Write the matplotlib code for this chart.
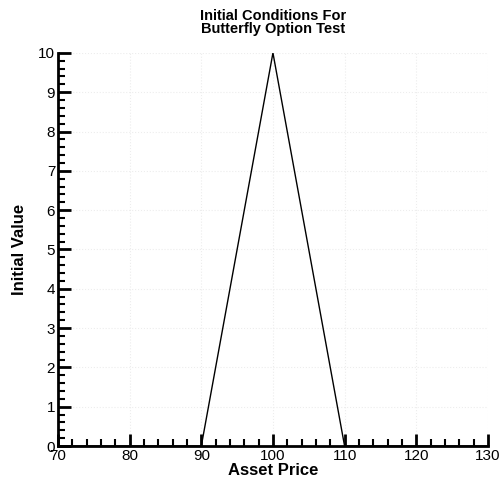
import matplotlib
matplotlib.use("Agg")
import matplotlib.pyplot as plt
from matplotlib.ticker import MultipleLocator

plt.rcParams['font.family'] = ['Liberation Sans', 'DejaVu Sans']

asset_price = [70, 90, 100, 110, 130]
initial_value = [0, 0, 10, 0, 0]
x_ticks = [70, 80, 90, 100, 110, 120, 130]
y_ticks = [0, 1, 2, 3, 4, 5, 6, 7, 8, 9, 10]

fig = plt.figure(figsize=(5.01, 4.8), dpi=100)
ax = fig.add_axes([0.1158, 0.0708, 0.858, 0.819])
ax.plot(asset_price, initial_value, color='black', linewidth=1.0)
ax.set_xlim(70, 130)
ax.set_ylim(0, 10)
ax.set_xticks(x_ticks)
ax.set_yticks(y_ticks)
ax.xaxis.set_minor_locator(MultipleLocator(2))
ax.yaxis.set_minor_locator(MultipleLocator(0.2))
for s in ['top', 'right']:
    ax.spines[s].set_visible(False)
for s in ['left', 'bottom']:
    ax.spines[s].set_linewidth(2)
ax.tick_params(which='major', direction='in', length=9, width=2, labelsize=11, pad=2)
ax.tick_params(which='minor', direction='in', length=5, width=1.5)
ax.grid(True, which='major', color='#ededed', linestyle=':', linewidth=0.8)
ax.set_xlabel('Asset Price', fontsize=12, fontweight='bold', labelpad=0)
ax.set_ylabel('Initial Value', fontsize=12, fontweight='bold', labelpad=8)
ax.set_title('Initial Conditions For\nButterfly Option Test', fontsize=10.5,
             fontweight='bold', linespacing=0.95, pad=14)
fig.savefig('out.png', dpi=100)
